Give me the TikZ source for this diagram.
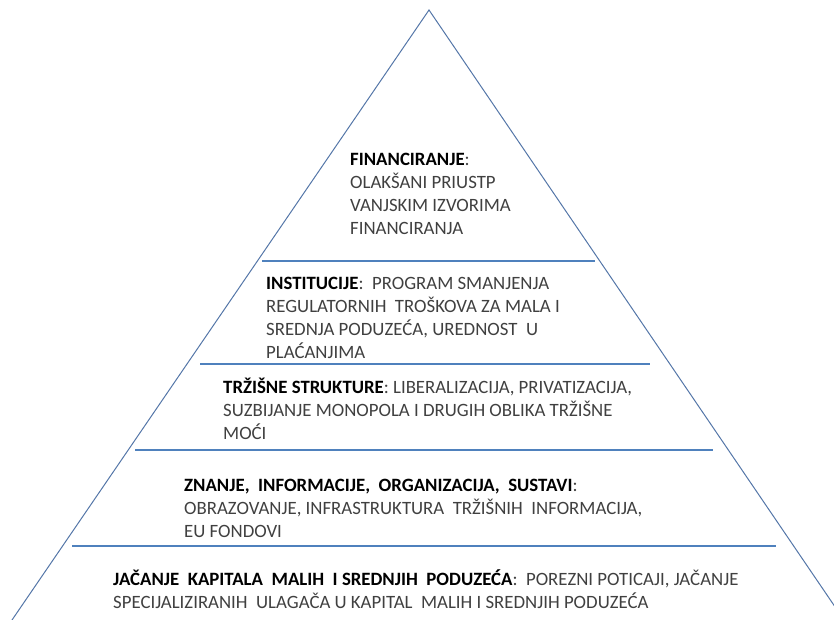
\documentclass[tikz,border=0pt]{standalone}
\usepackage{fontspec}
\setmainfont{Carlito}
\usepackage{tikz}

\definecolor{edgeblue}{RGB}{84,118,168}
\definecolor{sepblue}{RGB}{79,129,189}
\definecolor{bodygray}{RGB}{64,64,64}

\begin{document}
\begin{tikzpicture}[x=1pt, y=-1pt,
    layer/.style={anchor=base west, inner sep=0pt, align=left, text=bodygray,
                  font=\fontsize{18.8}{22.7}\selectfont},
    separator/.style={draw=sepblue, line width=1.6pt},
    side/.style={draw=edgeblue, line width=1pt}]
    \useasboundingbox (0,0) rectangle (834,620);
    \clip (0,0) rectangle (834,620);

    % Corners of the pyramid
    \coordinate (apex) at (429,10);
    \coordinate (leftfoot) at (12,620);
    \coordinate (rightfoot) at (844,620);

    % Ends of the level separators
    \coordinate (s1l) at (262,261);
    \coordinate (s1r) at (595,261);
    \coordinate (s2l) at (200,364);
    \coordinate (s2r) at (650,364);
    \coordinate (s3l) at (135,450);
    \coordinate (s3r) at (713,450);
    \coordinate (s4l) at (72,546);
    \coordinate (s4r) at (776,546);

    % Draw the pyramid sides
    \draw[side] (leftfoot) -- (apex) -- (rightfoot);

    % Draw the separators between levels
    \draw[separator] (s1l) -- (s1r);
    \draw[separator] (s2l) -- (s2r);
    \draw[separator] (s3l) -- (s3r);
    \draw[separator] (s4l) -- (s4r);

    % Level texts, top to bottom (placed at the baseline of their last line)
    \node[layer] (fin) at (350,234)
        {\textbf{\color{black}FINANCIRANJE}:\\
         OLAKŠANI PRIUSTP\\
         VANJSKIM IZVORIMA\\
         FINANCIRANJA};
    \node[layer] (inst) at (266,358)
        {\textbf{\color{black}INSTITUCIJE}:~ PROGRAM SMANJENJA\\
         REGULATORNIH~ TROŠKOVA ZA MALA I\\
         SREDNJA PODUZEĆA, UREDNOST~ U\\
         PLAĆANJIMA};
    \node[layer] (trz) at (223,439)
        {\textbf{\color{black}TRŽIŠNE STRUKTURE}: LIBERALIZACIJA, PRIVATIZACIJA,\\
         SUZBIJANJE MONOPOLA I DRUGIH OBLIKA TRŽIŠNE\\
         MOĆI};
    \node[layer] (zna) at (184,537)
        {\textbf{\color{black}ZNANJE,~ INFORMACIJE,~ ORGANIZACIJA,~ SUSTAVI}:\\
         OBRAZOVANJE, INFRASTRUKTURA~ TRŽIŠNIH~ INFORMACIJA,\\
         EU FONDOVI};
    \node[layer] (jac) at (113,608)
        {\textbf{\color{black}JAČANJE~ KAPITALA~ MALIH~ I SREDNJIH~ PODUZEĆA}:~ POREZNI POTICAJI, JAČANJE\\
         SPECIJALIZIRANIH~ ULAGAČA U KAPITAL~ MALIH I SREDNJIH PODUZEĆA};
\end{tikzpicture}
\end{document}
